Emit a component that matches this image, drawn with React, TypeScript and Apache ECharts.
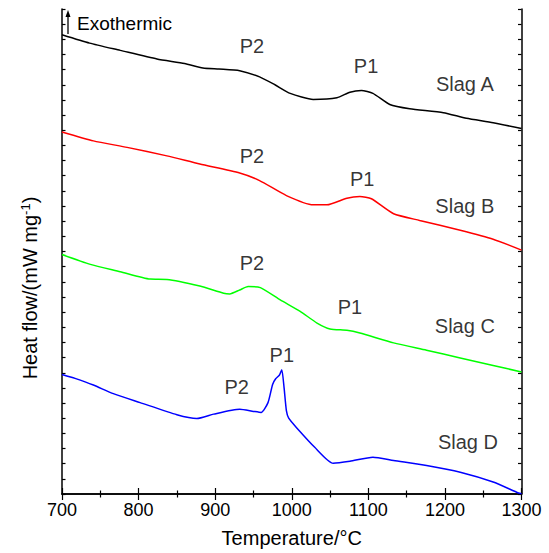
import React, { useEffect, useRef } from "react";
import * as echarts from "echarts";

const tempA = [700, 736, 776, 824, 860, 884, 905, 932, 958, 978, 998, 1028, 1059, 1076, 1091, 1106, 1128, 1154, 1198, 1228, 1263, 1300];
const slagA = [30.3, 29.75, 29.27, 28.7, 28.4, 28.11, 28.04, 27.93, 27.52, 27.0, 26.43, 26.03, 26.14, 26.51, 26.62, 26.43, 25.7, 25.42, 25.16, 24.79, 24.5, 24.11];

const tempB = [700, 741, 785, 837, 880, 932, 958, 993, 1028, 1046, 1072, 1089, 1104, 1133, 1167, 1220, 1263, 1300];
const slagB = [23.89, 23.3, 22.87, 22.31, 21.77, 21.18, 20.68, 19.69, 19.08, 19.08, 19.52, 19.63, 19.48, 18.49, 18.05, 17.4, 16.81, 16.09];

const tempC = [700, 737, 776, 815, 837, 880, 911, 919, 932, 943, 959, 985, 1011, 1033, 1050, 1072, 1089, 1133, 1176, 1220, 1263, 1300];
const slagC = [15.8, 15.15, 14.67, 14.18, 14.16, 13.72, 13.25, 13.2, 13.46, 13.69, 13.62, 12.81, 12.05, 11.28, 10.89, 10.8, 10.62, 9.97, 9.49, 8.98, 8.48, 8.05];

const tempD = [700, 717, 741, 767, 802, 850, 876, 898, 932, 950, 960, 969, 975, 979, 984, 987, 990, 993, 996, 1006, 1030, 1054, 1076, 1106, 1133, 1176, 1220, 1263, 1296, 1300];
const slagD = [7.89, 7.63, 7.19, 6.62, 6.03, 5.23, 4.98, 5.27, 5.59, 5.45, 5.38, 6.03, 7.23, 7.6, 7.85, 8.2, 7.0, 5.5, 5.0, 4.39, 3.08, 2.03, 2.16, 2.43, 2.21, 1.88, 1.44, 0.79, 0.07, 0.02];

const seriesNames = ["Slag A", "Slag B", "Slag C", "Slag D"];
const seriesColors = ["#000000", "#ff0000", "#00ff00", "#0000ff"];

const labelTexts = ["P2", "P1", "Slag A", "P2", "P1", "Slag B", "P2", "P1", "Slag C", "P1", "P2", "Slag D"];
const labelTemps = [948, 1097, 1226, 948, 1092, 1226, 948, 1076, 1226, 987, 928, 1230];
const labelValues = [29.57, 28.26, 27.02, 22.3, 20.79, 19.02, 15.21, 12.33, 11.08, 9.18, 7.08, 3.41];

const FONT = "'Liberation Sans', Arial, Helvetica, sans-serif";

export default function App() {
  const ref = useRef<HTMLDivElement>(null);
  useEffect(() => {
    if (!ref.current) return;
    const chart = echarts.init(ref.current, undefined, { renderer: "svg" });
    const temps = [tempA, tempB, tempC, tempD];
    const vals = [slagA, slagB, slagC, slagD];
    const lineSeries = seriesNames.map((n, i) => ({
      name: n,
      type: "line",
      data: temps[i].map((t, j) => [t, vals[i][j]]),
      showSymbol: false,
      symbol: "none",
      lineStyle: { color: seriesColors[i], width: 1.5 },
      smooth: 0.2,
      z: 3,
    }));
    const xCommon = {
      type: "value",
      min: 700,
      max: 1300,
      interval: 100,
      axisLine: { show: true, lineStyle: { color: "#000", width: 1.5 } },
      axisTick: { show: true, inside: true, length: 6, lineStyle: { color: "#000", width: 1.2 } },
      minorTick: { show: true, splitNumber: 2, length: 3.5, lineStyle: { color: "#000", width: 1.2 } },
      splitLine: { show: false },
    };
    const yCommon = {
      type: "value",
      min: 0,
      max: 32,
      interval: 1,
      axisLine: { show: true, lineStyle: { color: "#000", width: 1.5 } },
      axisTick: { show: true, inside: true, length: 3.5, lineStyle: { color: "#000", width: 1.2 } },
      axisLabel: { show: false },
      splitLine: { show: false },
    };
    chart.setOption({
      animation: false,
      backgroundColor: "#ffffff",
      grid: { left: 62, right: 27.5, top: 9, bottom: 56, containLabel: false },
      xAxis: [
        {
          ...xCommon,
          position: "bottom",
          name: "Temperature/°C",
          nameLocation: "middle",
          nameGap: 34,
          nameTextStyle: { fontFamily: FONT, fontSize: 20, color: "#000" },
          axisLabel: {
            show: true,
            margin: 7,
            fontFamily: FONT,
            fontSize: 18,
            color: "#000",
            formatter: (v: number) => String(v),
          },
        },
        {
          ...xCommon,
          position: "top",
          axisLabel: { show: false },
        },
      ],
      yAxis: [
        { ...yCommon, position: "left" },
        { ...yCommon, position: "right" },
      ],
      series: [
        ...lineSeries,
        {
          type: "scatter",
          symbolSize: 0,
          silent: true,
          data: labelTexts.map((t, i) => ({ name: t, value: [labelTemps[i], labelValues[i]] })),
          label: {
            show: true,
            position: "inside",
            formatter: (p: any) => p.name,
            fontFamily: FONT,
            fontSize: 20,
            color: "#000",
          },
          z: 5,
        },
      ],
      graphic: [
        {
          type: "line",
          shape: { x1: 68, y1: 34, x2: 68, y2: 15 },
          style: { stroke: "#000", lineWidth: 1.3 },
        },
        {
          type: "polygon",
          shape: { points: [[65.5, 17], [70.5, 17], [68, 10]] },
          style: { fill: "#000" },
        },
        {
          type: "text",
          x: 77,
          y: 23,
          style: {
            text: "Exothermic",
            fontFamily: FONT,
            fontSize: 19,
            fill: "#000",
            textAlign: "left",
            textVerticalAlign: "middle",
          },
        },
        {
          type: "text",
          x: 30,
          y: 288,
          rotation: Math.PI / 2,
          style: {
            text: "{a|Heat flow/(mW mg}{s|-1}{a|)}",
            textAlign: "center",
            textVerticalAlign: "middle",
            fill: "#000",
            rich: {
              a: { fontFamily: FONT, fontSize: 20, fill: "#000" },
              s: { fontFamily: FONT, fontSize: 13, fill: "#000", padding: [0, 0, 10, 0] },
            },
          },
        },
      ],
    });
    return () => chart.dispose();
  }, []);
  return (
    <div
      ref={ref}
      style={{ position: "absolute", left: 0, top: 0, width: 549, height: 553, background: "#fff" }}
    />
  );
}
